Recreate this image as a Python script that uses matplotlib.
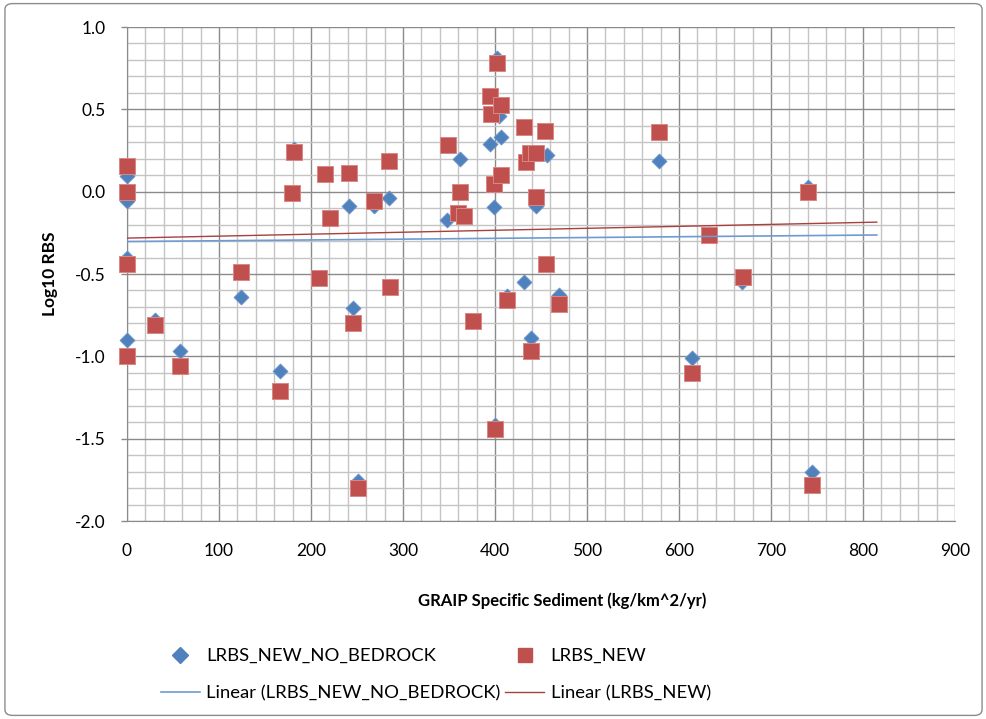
import numpy as np
import matplotlib
matplotlib.use("Agg")
import matplotlib.pyplot as plt
from matplotlib.patches import FancyBboxPatch
from matplotlib.lines import Line2D
from matplotlib.ticker import MultipleLocator, FormatStrFormatter

plt.rcParams['font.family'] = ['Lato', 'DejaVu Sans']

# ---- data ----
blue_label = "LRBS_NEW_NO_BEDROCK"
red_label = "LRBS_NEW"
blue_x = [0, 0, 0, 0, 30, 58, 124, 166, 182, 241, 246, 251, 269, 285, 347.5, 362,
          394.6, 399, 400, 402, 404, 406, 413, 431, 439, 445, 456, 470, 578.6, 614,
          633, 669, 740, 745]
blue_y = [0.095, -0.055, -0.40, -0.90, -0.78, -0.965, -0.64, -1.09, 0.26, -0.085,
          -0.706, -1.76, -0.085, -0.04, -0.173, 0.20, 0.287, -0.095, -1.42, 0.81,
          0.46, 0.33, -0.634, -0.547, -0.888, -0.085, 0.22, -0.625, 0.189, -1.01,
          -0.26, -0.55, 0.03, -1.70]
red_x = [0, 0, 0, 0, 30, 58, 124, 166, 179, 182, 209, 215, 221, 241, 246, 251, 269,
         285, 286, 348.5, 360, 362.5, 366.6, 375.7, 395, 395.6, 399.3, 400.4, 401.8,
         406, 406, 413.4, 431, 433.7, 438, 439, 445, 445, 454, 455, 470, 578.6, 614,
         633, 670, 740.6, 745]
red_y = [0.158, 0.0, -0.44, -0.995, -0.81, -1.057, -0.486, -1.21, -0.01, 0.24, -0.526,
         0.11, -0.16, 0.114, -0.80, -1.80, -0.055, 0.185, -0.58, 0.285, -0.13, -0.004,
         -0.146, -0.787, 0.58, 0.47, 0.047, -1.443, 0.783, 0.524, 0.104, -0.66, 0.39,
         0.18, 0.234, -0.965, 0.234, -0.03, 0.368, -0.437, -0.685, 0.362, -1.10, -0.264,
         -0.516, -0.004, -1.78]
# linear trendlines (intercept, slope) and their extent
blue_trend = [-0.303, 0.0000489]
red_trend = [-0.282, 0.000119]
trend_x_range = [0, 815]
x_label = "GRAIP Specific Sediment (kg/km^2/yr)"
y_label = "Log10 RBS"

blue_c = "#4F81BD"
red_c = "#C0504D"

fig = plt.figure(figsize=(9.87, 7.19), dpi=100)
fig.patch.set_facecolor("white")
fig.patches.append(FancyBboxPatch((0.005, 0.005), 0.99, 0.99, boxstyle="round,pad=0,rounding_size=0.008",
                                  transform=fig.transFigure, facecolor="none",
                                  edgecolor="#8c8c8c", linewidth=1.0))

ax = fig.add_axes([127/987, 1-521/719, (955-127)/987, (521-27)/719])
ax.set_xlim(0, 900)
ax.set_ylim(-2.0, 1.0)
ax.xaxis.set_major_locator(MultipleLocator(100))
ax.xaxis.set_minor_locator(MultipleLocator(20))
ax.yaxis.set_major_locator(MultipleLocator(0.5))
ax.yaxis.set_minor_locator(MultipleLocator(0.1))
ax.yaxis.set_major_formatter(FormatStrFormatter('%.1f'))
ax.grid(which='major', color='#8a8a8a', linewidth=1.0, zorder=0)
ax.grid(which='minor', color='#c4c4c4', linewidth=1.0, zorder=0)
ax.set_axisbelow(True)
for s in ['top', 'right']:
    ax.spines[s].set_visible(False)
for s in ['left', 'bottom']:
    ax.spines[s].set_color('#8a8a8a')
ax.tick_params(axis='both', which='major', labelsize=12.5, colors='#8a8a8a',
               labelcolor='black', width=1)
ax.tick_params(axis='y', which='major', length=4.5, pad=11)
ax.tick_params(axis='x', which='major', length=0, pad=16)
ax.tick_params(axis='both', which='minor', length=0)

ax.scatter(blue_x, blue_y, marker='D', s=58, color=blue_c, edgecolor='#6a95cb',
           linewidth=0.6, zorder=3, clip_on=False)
ax.scatter(red_x, red_y, marker='s', s=122, color=red_c, edgecolor='#d98886',
           linewidth=0.7, zorder=4, clip_on=False)

xs = np.array(trend_x_range, dtype=float)
lb, = ax.plot(xs, blue_trend[0] + blue_trend[1] * xs, color='#6f9bd0', linewidth=1.2, zorder=5)
lr, = ax.plot(xs, red_trend[0] + red_trend[1] * xs, color='#a8403e', linewidth=1.0, zorder=5)

ax.set_xlabel(x_label, fontsize=12, fontweight='bold')
ax.xaxis.set_label_coords((562 - 127) / (955 - 127), -(601 - 521 - 9) / (521 - 27))
ax.xaxis.label.set_va('top')
ax.set_ylabel(y_label, fontsize=12.5, fontweight='bold', labelpad=12)

h_blue = Line2D([], [], marker='D', color=blue_c, linestyle='none', markersize=8)
h_red = Line2D([], [], marker='s', color=red_c, linestyle='none', markersize=10)
fig.legend([h_blue, lb, h_red, lr],
           [blue_label, "Linear (" + blue_label + ")", red_label, "Linear (" + red_label + ")"],
           ncol=2, loc='upper left', bbox_to_anchor=(161/987, 1-648/719),
           frameon=False, fontsize=13.3, handlelength=2.1, handletextpad=0.35,
           columnspacing=0.25, labelspacing=1.15, borderaxespad=0, borderpad=0)

fig.savefig("out.png", dpi=100)
